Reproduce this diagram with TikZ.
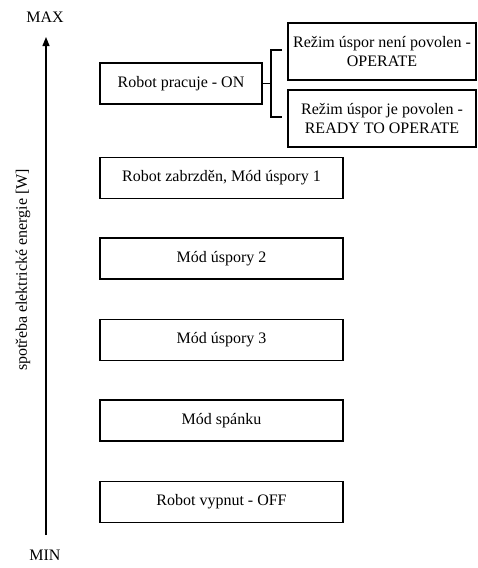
\documentclass[tikz,border=0pt]{standalone}
\usepackage{fontspec}
\setmainfont{Liberation Serif}
\usetikzlibrary{arrows.meta}
\begin{document}
\begin{tikzpicture}[x=1pt,y=-1pt,
  box/.style={draw, line width=1.1pt, inner sep=0pt, font=\fontsize{16}{18.5}\selectfont, align=center},
  conn/.style={line width=1.1pt}]
\useasboundingbox (0,0) rectangle (477,568);
% axis
\coordinate (abot) at (46,535);
\coordinate (atop) at (46,37);
\draw[line width=1.2pt,-{Triangle[length=9pt,width=7pt]}] (abot) -- (atop);
\node[font=\fontsize{16}{18}\selectfont] (max) at (45,17) {MAX};
\node[font=\fontsize{16}{18}\selectfont] (min) at (45,555) {MIN};
\node[font=\fontsize{16}{18}\selectfont, rotate=90] (ylab) at (23,270) {spotřeba elektrické energie [W]};
% left boxes
\node[box, minimum width=162pt, minimum height=41pt] (on) at (181,83.5) {Robot pracuje - ON};
\node[box, minimum width=243pt, minimum height=41pt] (b1) at (221.5,178) {Robot zabrzděn, Mód úspory 1};
\node[box, minimum width=243pt, minimum height=41pt] (b2) at (221.5,258.5) {Mód úspory 2};
\node[box, minimum width=243pt, minimum height=41pt] (b3) at (221.5,340) {Mód úspory 3};
\node[box, minimum width=243pt, minimum height=41pt] (b4) at (221.5,420.5) {Mód spánku};
\node[box, minimum width=243pt, minimum height=41pt] (b5) at (221.5,502) {Robot vypnut - OFF};
% right boxes
\node[box, minimum width=188pt, minimum height=57pt] (op) at (382,51.5) {Režim úspor není povolen -\\OPERATE};
\node[box, minimum width=188pt, minimum height=57pt] (rdy) at (382,118.5) {Režim úspor je povolen -\\READY TO OPERATE};
% bracket
\coordinate (bj) at (271,83.5);
\coordinate (bt) at (271,50);
\coordinate (bb) at (271,117);
\coordinate (tt) at (282,50);
\coordinate (tb) at (282,117);
\draw[conn] (on.east) -- (bj);
\draw[conn] (tt) -- (bt) -- (bb) -- (tb);
\end{tikzpicture}
\end{document}
